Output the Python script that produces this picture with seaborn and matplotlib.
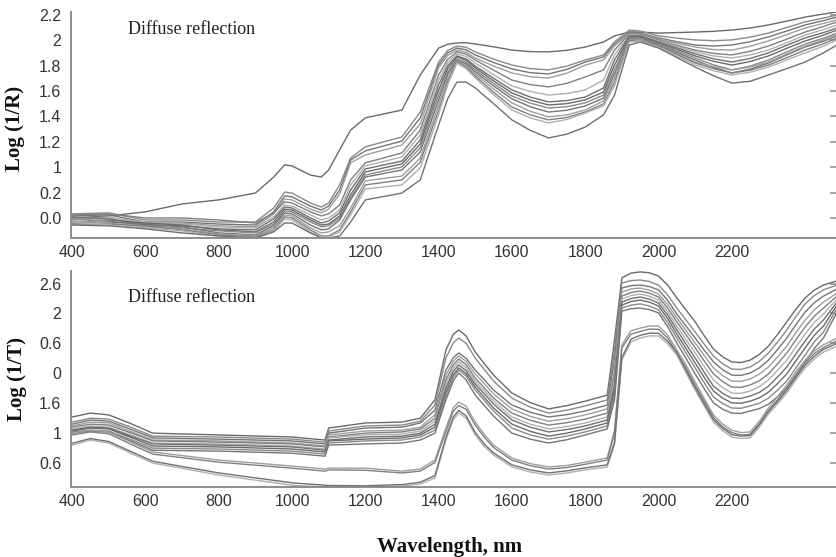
import matplotlib
matplotlib.use("Agg")
import matplotlib.pyplot as plt
import pandas as pd
import seaborn as sns

# ---------------- top panel: Log(1/R), values in tick-index units ----------------
top_wl = [400, 500, 600, 700, 800, 900, 950, 980, 1000, 1050, 1080, 1100, 1130, 1160, 1200,
          1300, 1350, 1400, 1450, 1500, 1600, 1700, 1800, 1850, 1880, 1920, 1950, 2000, 2100,
          2200, 2300, 2400, 2487]
T1 = [0.00, 0.08, 0.24, 0.55, 0.71, 0.98, 1.61, 2.09, 2.05, 1.69, 1.61, 1.89, 2.68, 3.46, 3.94, 4.25, 5.63, 6.69, 6.89, 6.85, 6.61, 6.54, 6.73, 6.93, 7.17, 7.32, 7.32, 7.28, 7.32, 7.40, 7.60, 7.91, 8.11]
T2 = [0.16, 0.20, -0.08, -0.08, -0.16, -0.16, 0.39, 1.02, 0.98, 0.59, 0.43, 0.59, 1.30, 2.36, 2.80, 3.19, 4.17, 6.14, 6.77, 6.54, 6.02, 5.83, 6.22, 6.42, 6.93, 7.40, 7.36, 7.17, 7.01, 7.01, 7.28, 7.72, 7.99]
T3 = [0.08, 0.12, -0.16, -0.16, -0.24, -0.28, 0.24, 0.87, 0.83, 0.47, 0.31, 0.47, 1.10, 2.28, 2.64, 3.03, 3.94, 6.02, 6.69, 6.42, 5.87, 5.67, 6.14, 6.34, 6.85, 7.32, 7.28, 7.09, 6.81, 6.81, 7.13, 7.60, 7.91]
T4 = [-0.04, 0.04, -0.24, -0.20, -0.31, -0.35, 0.16, 0.75, 0.71, 0.35, 0.20, 0.35, 0.94, 2.17, 2.48, 2.87, 3.70, 5.91, 6.61, 6.30, 5.71, 5.51, 6.02, 6.22, 6.77, 7.28, 7.24, 7.05, 6.73, 6.61, 6.97, 7.48, 7.80]
T5 = [0.12, 0.16, 0.00, 0.00, -0.08, -0.20, 0.20, 0.63, 0.59, 0.24, 0.08, 0.16, 0.51, 1.50, 2.17, 2.56, 3.46, 5.63, 6.54, 6.22, 5.43, 5.16, 5.55, 5.83, 6.61, 7.24, 7.24, 7.01, 6.61, 6.42, 6.77, 7.32, 7.72]
T6 = [-0.08, 0.00, -0.16, -0.24, -0.35, -0.39, 0.04, 0.51, 0.47, 0.12, -0.08, 0.00, 0.31, 1.30, 2.05, 2.40, 3.27, 5.43, 6.46, 6.10, 5.20, 4.84, 5.04, 5.43, 6.42, 7.20, 7.20, 6.97, 6.54, 6.30, 6.61, 7.20, 7.60]
T7 = [0.04, -0.04, -0.28, -0.31, -0.43, -0.47, -0.04, 0.43, 0.39, 0.00, -0.20, -0.12, 0.20, 1.10, 1.93, 2.24, 3.07, 5.24, 6.38, 5.98, 5.04, 4.57, 4.76, 5.12, 6.22, 7.17, 7.17, 6.93, 6.46, 6.14, 6.50, 7.09, 7.48]
T8 = [-0.16, -0.08, -0.20, -0.28, -0.47, -0.55, -0.16, 0.35, 0.31, -0.08, -0.28, -0.24, 0.08, 0.91, 1.81, 2.13, 2.91, 5.04, 6.34, 5.91, 4.92, 4.45, 4.65, 4.96, 6.02, 7.13, 7.13, 6.89, 6.38, 6.02, 6.38, 6.97, 7.40]
T9 = [-0.04, -0.12, -0.31, -0.39, -0.51, -0.59, -0.24, 0.28, 0.24, -0.16, -0.35, -0.31, 0.00, 0.79, 1.69, 2.01, 2.76, 4.84, 6.26, 5.83, 4.80, 4.33, 4.53, 4.84, 5.83, 7.09, 7.09, 6.85, 6.30, 5.83, 6.22, 6.85, 7.28]
T10 = [-0.20, -0.16, -0.24, -0.35, -0.59, -0.67, -0.31, 0.20, 0.16, -0.28, -0.47, -0.43, -0.08, 0.71, 1.61, 1.89, 2.60, 4.65, 6.22, 5.75, 4.69, 4.17, 4.41, 4.72, 5.67, 7.05, 7.09, 6.81, 6.22, 5.71, 6.10, 6.73, 7.17]
T11 = [-0.12, -0.20, -0.35, -0.43, -0.63, -0.71, -0.39, 0.12, 0.08, -0.39, -0.59, -0.55, -0.31, 0.39, 1.46, 1.65, 2.36, 4.45, 6.18, 5.67, 4.53, 3.98, 4.25, 4.61, 5.51, 7.01, 7.05, 6.77, 6.14, 5.83, 6.14, 6.77, 7.24]
T12 = [-0.24, -0.24, -0.31, -0.47, -0.67, -0.75, -0.47, 0.04, 0.00, -0.47, -0.71, -0.71, -0.47, 0.24, 1.30, 1.50, 2.20, 4.25, 6.14, 5.59, 4.37, 3.86, 4.17, 4.49, 5.35, 6.97, 7.01, 6.77, 6.10, 5.71, 6.02, 6.61, 7.09]
T13 = [-0.16, -0.28, -0.39, -0.51, -0.71, -0.79, -0.51, -0.04, -0.08, -0.55, -0.75, -0.75, -0.55, 0.12, 1.14, 1.30, 1.97, 4.06, 6.10, 5.51, 4.25, 3.74, 4.13, 4.41, 5.20, 6.93, 6.97, 6.73, 6.02, 5.63, 5.94, 6.50, 7.01]
T14 = [-0.28, -0.31, -0.43, -0.59, -0.71, -0.79, -0.55, -0.20, -0.20, -0.59, -0.79, -0.79, -0.71, -0.16, 0.71, 0.98, 1.50, 3.66, 5.35, 5.12, 3.86, 3.15, 3.58, 4.06, 4.84, 6.81, 6.93, 6.69, 5.94, 5.31, 5.63, 6.14, 6.81]

# extra readings (same lines) at further wavelengths
top_wl_x = [1425, 1475, 1550, 1650, 1750, 2050, 2150, 2250, 2350, 2450]
T1x = [6.84, 6.90, 6.74, 6.55, 6.60, 7.30, 7.35, 7.48, 7.75, 8.03]
T2x = [6.60, 6.72, 6.25, 5.88, 5.98, 7.08, 6.98, 7.12, 7.50, 7.87]
T3x = [6.50, 6.62, 6.12, 5.72, 5.85, 6.94, 6.77, 6.94, 7.36, 7.77]
T4x = [6.40, 6.53, 5.98, 5.56, 5.70, 6.88, 6.63, 6.76, 7.22, 7.66]
T5x = [6.25, 6.45, 5.82, 5.25, 5.30, 6.80, 6.48, 6.56, 7.04, 7.54]
T6x = [6.12, 6.36, 5.64, 4.98, 4.90, 6.76, 6.38, 6.42, 6.90, 7.42]
T7x = [6.00, 6.26, 5.50, 4.76, 4.62, 6.70, 6.27, 6.28, 6.80, 7.30]
T8x = [5.88, 6.20, 5.40, 4.64, 4.50, 6.64, 6.17, 6.16, 6.68, 7.20]
T9x = [5.75, 6.12, 5.30, 4.52, 4.38, 6.58, 6.03, 5.98, 6.54, 7.08]
T10x = [5.65, 6.06, 5.20, 4.38, 4.24, 6.52, 5.93, 5.86, 6.42, 6.96]
T11x = [5.50, 6.00, 5.08, 4.20, 4.06, 6.47, 5.96, 5.94, 6.46, 7.02]
T12x = [5.38, 5.94, 4.95, 4.06, 3.96, 6.44, 5.88, 5.82, 6.31, 6.86]
T13x = [5.25, 5.88, 4.85, 3.94, 3.88, 6.38, 5.80, 5.74, 6.22, 6.76]
T14x = [4.70, 5.35, 4.50, 3.45, 3.30, 6.32, 5.60, 5.38, 5.88, 6.50]
top_labels = ["0.0", "0.2", "1", "1.2", "1.4", "1.6", "1.8", "2", "2.2"]

# ---------------- bottom panel: Log(1/T), values in tick-index units ----------------
bot_wl = [400, 450, 500, 620, 800, 1000, 1090, 1100, 1200, 1300, 1350, 1390, 1420, 1455, 1500,
          1550, 1600, 1700, 1800, 1860, 1880, 1900, 1950, 2000, 2050, 2100, 2150, 2200, 2250,
          2300, 2350, 2400, 2450, 2487]
B1 = [1.54, 1.67, 1.61, 1.00, 0.94, 0.87, 0.77, 1.17, 1.34, 1.37, 1.50, 2.11, 3.78, 4.45, 3.71, 2.94, 2.34, 1.81, 2.07, 2.27, 4.11, 6.19, 6.39, 6.25, 5.52, 4.72, 3.81, 3.38, 3.44, 3.91, 4.72, 5.52, 5.95, 6.09]
B2 = [1.37, 1.50, 1.47, 0.90, 0.87, 0.80, 0.70, 1.07, 1.24, 1.27, 1.40, 1.94, 3.51, 4.18, 3.51, 2.74, 2.17, 1.67, 1.91, 2.11, 3.78, 6.02, 6.12, 5.95, 5.18, 4.38, 3.58, 3.14, 3.21, 3.68, 4.45, 5.32, 5.79, 5.95]
B3 = [1.30, 1.44, 1.40, 0.84, 0.80, 0.74, 0.64, 1.00, 1.17, 1.20, 1.34, 1.77, 3.11, 3.68, 3.11, 2.44, 1.94, 1.54, 1.74, 1.94, 3.44, 5.85, 5.95, 5.79, 4.98, 4.18, 3.38, 2.94, 3.01, 3.44, 4.18, 5.05, 5.58, 5.82]
B4 = [1.24, 1.37, 1.34, 0.77, 0.74, 0.67, 0.57, 0.94, 1.07, 1.10, 1.20, 1.61, 2.94, 3.58, 2.98, 2.31, 1.81, 1.40, 1.61, 1.81, 3.11, 5.72, 5.85, 5.65, 4.85, 4.01, 3.18, 2.74, 2.81, 3.21, 3.91, 4.78, 5.38, 5.68]
B5 = [1.20, 1.30, 1.27, 0.74, 0.70, 0.64, 0.54, 0.87, 1.00, 1.04, 1.14, 1.50, 2.78, 3.48, 2.84, 2.17, 1.67, 1.27, 1.47, 1.67, 2.94, 5.58, 5.75, 5.55, 4.72, 3.85, 2.98, 2.54, 2.61, 2.98, 3.68, 4.55, 5.18, 5.58]
B6 = [1.14, 1.24, 1.20, 0.67, 0.64, 0.57, 0.47, 0.84, 0.94, 0.97, 1.07, 1.40, 2.64, 3.38, 2.74, 2.07, 1.54, 1.14, 1.34, 1.54, 2.78, 5.48, 5.65, 5.45, 4.58, 3.68, 2.78, 2.34, 2.41, 2.78, 3.44, 4.31, 4.98, 5.48]
B7 = [1.10, 1.20, 1.17, 0.64, 0.60, 0.54, 0.43, 0.77, 0.87, 0.90, 1.00, 1.30, 2.51, 3.28, 2.64, 1.97, 1.44, 1.04, 1.24, 1.44, 2.61, 5.38, 5.55, 5.35, 4.45, 3.51, 2.57, 2.17, 2.24, 2.57, 3.21, 4.08, 4.78, 5.38]
B8 = [1.07, 1.17, 1.14, 0.57, 0.54, 0.47, 0.37, 0.74, 0.80, 0.84, 0.94, 1.20, 2.37, 3.18, 2.54, 1.84, 1.30, 0.90, 1.14, 1.34, 2.44, 5.28, 5.45, 5.25, 4.31, 3.34, 2.41, 2.01, 2.07, 2.37, 2.98, 3.85, 4.58, 5.28]
B9 = [1.04, 1.10, 1.07, 0.50, 0.47, 0.40, 0.30, 0.67, 0.74, 0.77, 0.87, 1.10, 2.24, 3.11, 2.44, 1.74, 1.17, 0.80, 1.04, 1.24, 2.27, 5.18, 5.32, 5.12, 4.18, 3.18, 2.21, 1.84, 1.91, 2.17, 2.74, 3.61, 4.38, 5.18]
B10 = [1.00, 1.07, 1.04, 0.43, 0.40, 0.33, 0.23, 0.60, 0.64, 0.67, 0.77, 1.00, 2.11, 3.01, 2.27, 1.57, 1.00, 0.67, 0.94, 1.14, 2.11, 5.08, 5.18, 5.02, 4.01, 2.98, 2.01, 1.67, 1.74, 1.97, 2.51, 3.38, 4.18, 5.05]
L1a = [1.00, 1.10, 1.04, 0.37, 0.10, -0.10, -0.20, -0.17, -0.17, -0.27, -0.20, 0.10, 1.17, 2.04, 1.37, 0.60, 0.17, -0.13, 0.03, 0.17, 1.10, 3.95, 4.51, 4.58, 3.78, 2.71, 1.61, 1.10, 1.04, 1.84, 2.61, 3.44, 3.95, 4.18]
L1b = [0.94, 1.04, 0.98, 0.30, 0.03, -0.17, -0.27, -0.23, -0.24, -0.33, -0.27, 0.02, 1.05, 1.92, 1.27, 0.52, 0.10, -0.20, -0.04, 0.10, 1.00, 3.85, 4.40, 4.47, 3.68, 2.60, 1.52, 1.02, 0.96, 1.75, 2.52, 3.35, 3.86, 4.09]
L2a = [0.60, 0.77, 0.67, 0.00, -0.40, -0.74, -0.80, -0.80, -0.80, -0.77, -0.70, -0.50, 0.77, 1.67, 0.94, 0.27, -0.13, -0.40, -0.23, -0.13, 0.60, 3.44, 4.18, 4.25, 3.61, 2.44, 1.37, 0.87, 0.84, 1.64, 2.34, 3.18, 3.71, 3.91]
L2b = [0.66, 0.82, 0.72, 0.06, -0.33, -0.66, -0.74, -0.75, -0.76, -0.72, -0.64, -0.42, 0.86, 1.76, 1.02, 0.34, -0.06, -0.33, -0.16, -0.06, 0.70, 3.53, 4.27, 4.34, 3.70, 2.52, 1.45, 0.95, 0.92, 1.72, 2.43, 3.27, 3.80, 4.00]

bot_wl_x = [560, 1440, 1475, 1525, 1650, 1750, 1925, 1975, 2025, 2075, 2125, 2175, 2225, 2275,
            2325, 2375, 2425]
B1x = [1.32, 4.30, 4.25, 3.32, 2.02, 1.92, 6.35, 6.36, 5.95, 5.12, 4.25, 3.55, 3.36, 3.63, 4.30, 5.14, 5.78]
B2x = [1.20, 4.02, 4.00, 3.12, 1.87, 1.77, 6.10, 6.07, 5.62, 4.78, 3.97, 3.32, 3.13, 3.40, 4.05, 4.90, 5.60]
B3x = [1.13, 3.52, 3.50, 2.78, 1.70, 1.62, 5.93, 5.90, 5.44, 4.58, 3.77, 3.12, 2.93, 3.18, 3.80, 4.63, 5.36]
B4x = [1.06, 3.40, 3.40, 2.65, 1.56, 1.48, 5.82, 5.78, 5.30, 4.43, 3.59, 2.92, 2.73, 2.97, 3.55, 4.36, 5.12]
B5x = [1.01, 3.28, 3.29, 2.51, 1.43, 1.35, 5.70, 5.68, 5.18, 4.29, 3.41, 2.72, 2.53, 2.75, 3.32, 4.12, 4.91]
B6x = [0.94, 3.17, 3.19, 2.41, 1.30, 1.22, 5.60, 5.58, 5.06, 4.13, 3.22, 2.52, 2.33, 2.55, 3.10, 3.88, 4.70]
B7x = [0.90, 3.06, 3.09, 2.31, 1.20, 1.12, 5.50, 5.48, 4.95, 3.98, 3.03, 2.33, 2.16, 2.36, 2.88, 3.65, 4.48]
B8x = [0.86, 2.95, 2.99, 2.19, 1.06, 1.00, 5.40, 5.38, 4.83, 3.83, 2.86, 2.17, 2.00, 2.18, 2.66, 3.42, 4.27]
B9x = [0.79, 2.86, 2.91, 2.09, 0.94, 0.90, 5.28, 5.25, 4.70, 3.68, 2.68, 1.99, 1.83, 2.00, 2.44, 3.18, 4.05]
B10x = [0.74, 2.75, 2.78, 1.92, 0.80, 0.78, 5.16, 5.13, 4.56, 3.50, 2.48, 1.80, 1.66, 1.82, 2.22, 2.94, 3.83]
L1ax = [0.70, 1.85, 1.90, 0.95, -0.02, -0.08, 4.42, 4.58, 4.28, 3.28, 2.15, 1.30, 1.02, 1.40, 2.22, 3.05, 3.75]
L1bx = [0.63, 1.74, 1.80, 0.86, -0.09, -0.15, 4.31, 4.48, 4.18, 3.18, 2.06, 1.21, 0.94, 1.31, 2.12, 2.95, 3.66]
L2ax = [0.33, 1.45, 1.50, 0.55, -0.30, -0.33, 4.05, 4.25, 3.98, 3.02, 1.90, 1.08, 0.82, 1.20, 1.98, 2.78, 3.48]
L2bx = [0.39, 1.54, 1.58, 0.63, -0.23, -0.26, 4.14, 4.34, 4.07, 3.10, 1.98, 1.16, 0.90, 1.28, 2.06, 2.87, 3.57]
bot_labels = ["0.6", "1", "1.6", "0", "0.6", "2", "2.6"]

x_ticks = [400, 600, 800, 1000, 1200, 1400, 1600, 1800, 2000, 2200, 2400]
x_labels = ["400", "600", "800", "1000", "1200", "1400", "1600", "1800", "2000", "2200", ""]

top_series = {"T1": (T1, T1x), "T2": (T2, T2x), "T3": (T3, T3x), "T4": (T4, T4x),
              "T5": (T5, T5x), "T6": (T6, T6x), "T7": (T7, T7x), "T8": (T8, T8x),
              "T9": (T9, T9x), "T10": (T10, T10x), "T11": (T11, T11x), "T12": (T12, T12x),
              "T13": (T13, T13x), "T14": (T14, T14x)}
bot_series = {"B1": (B1, B1x), "B2": (B2, B2x), "B3": (B3, B3x), "B4": (B4, B4x),
              "B5": (B5, B5x), "B6": (B6, B6x), "B7": (B7, B7x), "B8": (B8, B8x),
              "B9": (B9, B9x), "B10": (B10, B10x), "L1a": (L1a, L1ax), "L1b": (L1b, L1bx),
              "L2a": (L2a, L2ax), "L2b": (L2b, L2bx)}


def long_frame(wl, wl_x, series):
    rows = []
    for name, (vals, vals_x) in series.items():
        assert len(vals) == len(wl), name
        assert len(vals_x) == len(wl_x), name
        for w, v in zip(list(wl) + list(wl_x), list(vals) + list(vals_x)):
            rows.append((w, v, name))
    return pd.DataFrame(rows, columns=["wl", "val", "sample"])


df_top = long_frame(top_wl, top_wl_x, top_series)
df_bot = long_frame(bot_wl, bot_wl_x, bot_series)

grays = ["#6a6a6a", "#8a8a8a", "#757575", "#9e9e9e", "#808080", "#b0b0b0", "#707070"]
top_pal = {k: grays[i % len(grays)] for i, k in enumerate(top_series)}
bot_pal = {k: grays[i % len(grays)] for i, k in enumerate(bot_series)}

sns.set_theme(style="white")
plt.rcParams["font.family"] = ["Liberation Sans", "DejaVu Sans"]
serif = ["Liberation Serif", "DejaVu Serif"]

fig = plt.figure(figsize=(8.37, 5.57), dpi=100)
W, H = 837.0, 557.0
ax1 = fig.add_axes([71 / W, 1 - 238 / H, 766 / W, 226 / H])
ax2 = fig.add_axes([71 / W, 1 - 487 / H, 766 / W, 216 / H])

sns.lineplot(data=df_top, x="wl", y="val", hue="sample", units="sample", palette=top_pal,
             estimator=None, sort=True, legend=False, lw=1.0, ax=ax1)
sns.lineplot(data=df_bot, x="wl", y="val", hue="sample", units="sample", palette=bot_pal,
             estimator=None, sort=True, legend=False, lw=1.0, ax=ax2)

spine_c = "#8c8c8c"
for ax in (ax1, ax2):
    ax.set_xlim(397, 2487)
    for s in ("top", "right"):
        ax.spines[s].set_visible(False)
    for s in ("left", "bottom"):
        ax.spines[s].set_color(spine_c)
        ax.spines[s].set_linewidth(1.4)
    ax.set_xticks(x_ticks, x_labels)
    ax.tick_params(direction="in", length=5, width=1.1, color=spine_c,
                   labelsize=11.5, labelcolor="#333333")
    ax.tick_params(axis="y", right=True, pad=7)
    ax.tick_params(axis="x", pad=5)
    ax.set_xlabel("")
    ax.set_ylabel("")

ax1.set_ylim(-0.79, 8.11)
ax1.set_yticks(range(len(top_labels)), top_labels)
ax2.set_ylim(-0.80, 6.42)
ax2.set_yticks(range(len(bot_labels)), bot_labels)

fig.text(128 / W, 1 - 34.5 / H, "Diffuse reflection", family=serif, fontsize=13,
         ha="left", va="baseline", color="#222222")
fig.text(128 / W, 1 - 301.5 / H, "Diffuse reflection", family=serif, fontsize=13,
         ha="left", va="baseline", color="#222222")
fig.text(15 / W, 1 - 128 / H, "Log (1/R)", family=serif, fontsize=15, fontweight="bold",
         rotation=90, ha="center", va="center", color="#111111")
fig.text(17 / W, 1 - 379 / H, "Log (1/T)", family=serif, fontsize=15, fontweight="bold",
         rotation=90, ha="center", va="center", color="#111111")
fig.text(450 / W, 1 - 552 / H, "Wavelength, nm", family=serif, fontsize=15, fontweight="bold",
         ha="center", va="baseline", color="#111111")

fig.savefig("out.png", dpi=100)
